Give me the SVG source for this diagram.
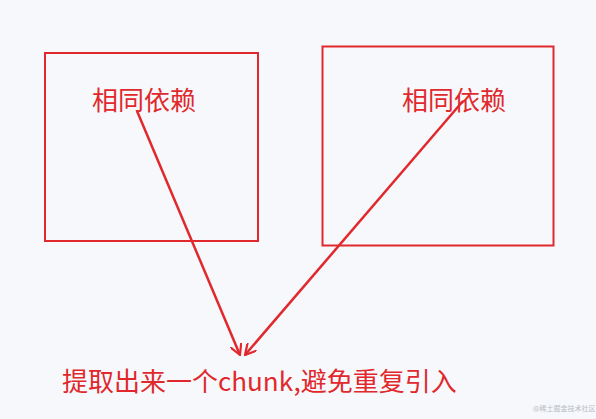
<svg xmlns="http://www.w3.org/2000/svg" width="596" height="419" viewBox="0 0 596 419">
<style>
.box{fill:none;stroke:#e0282d;stroke-width:2}
.t{fill:#e0282d;font-family:"Microsoft YaHei","Noto Sans CJK SC",sans-serif;font-size:26px}
.c{stroke:#e0282d;stroke-width:2.5;fill:none}
</style>
<defs>
<marker id="a" viewBox="0 0 12 12" refX="11" refY="6" markerWidth="12" markerHeight="12" markerUnits="userSpaceOnUse" orient="auto">
<path d="M0,0 L11,6 L0,12" fill="none" stroke="#e0282d" stroke-width="2.2"/>
</marker>
</defs>
<rect width="596" height="419" fill="#f6f8fb"/>
<g id="left">
<rect class="box" x="45" y="53" width="213" height="188"/>
<text class="t" x="92" y="110">相同依赖</text>
</g>
<g id="right">
<rect class="box" x="322.5" y="46.5" width="231" height="199"/>
<text class="t" x="402" y="110">相同依赖</text>
</g>
<g id="bottom">
<text class="t" x="62" y="391">提取出来一个chunk,避免重复引入</text>
</g>
<g id="connectors">
<line class="c" x1="137" y1="111" x2="240" y2="355" marker-end="url(#a)"/>
<line class="c" x1="463" y1="101" x2="245" y2="355" marker-end="url(#a)"/>
</g>
<text x="533" y="411" fill="#b8bcc4" font-family="Noto Sans CJK SC,sans-serif" font-size="7">@稀土掘金技术社区</text>
</svg>
